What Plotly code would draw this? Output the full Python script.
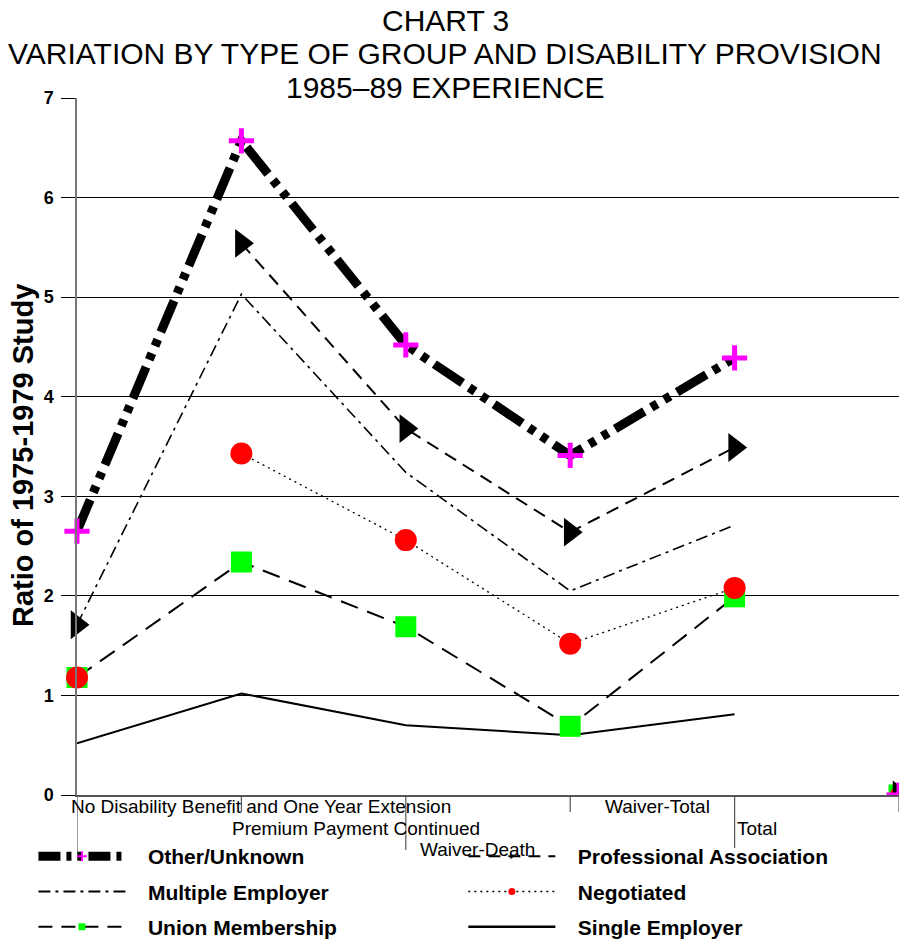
import plotly.graph_objects as go

categories = ["No Disability Benefit and One Year Extension", "Premium Payment Continued",
              "Waiver-Death", "Waiver-Total", "Total"]
other_unknown = [2.65, 6.57, 4.52, 3.41, 4.39]
professional = [1.71, 5.54, 3.68, 2.64, 3.49]
multiple_emp = [1.71, 5.03, 3.24, 2.05, 2.71]
negotiated = [1.18, 3.43, 2.56, 1.52, 2.08]
union_memb = [1.18, 2.34, 1.69, 0.69, 1.99]
single_emp = [0.52, 1.02, 0.70, 0.60, 0.81]
stray_x = 5
stray_y = 0
y_ticks = [0, 1, 2, 3, 4, 5, 6, 7]
title_lines = ["CHART 3", "VARIATION BY TYPE OF GROUP AND DISABILITY PROVISION", "1985\u201389 EXPERIENCE"]
y_title = "Ratio of 1975-1979 Study"

FONT = "Arial, Liberation Sans, sans-serif"
xs = list(range(len(categories)))

MAGENTA = "#ff00ff"
GREEN = "#00ff00"
RED = "#ff0000"
NB = "\u00a0\u00a0\u00a0"

L, R, T, B = 77, 3, 98, 146
plot_h = 941 - T - B
plot_w = 902 - L - R

def px_x(p):
    return (p - L) / plot_w

def px_y(p):
    return 1 + (T - p) / plot_h

fig = go.Figure()

def add(**kw):
    kw.setdefault("showlegend", False)
    kw.setdefault("cliponaxis", False)
    fig.add_trace(go.Scatter(**kw))

# Single Employer
add(x=xs, y=single_emp, mode="lines", line=dict(color="black", width=2))
# Union Membership
add(x=xs, y=union_memb, mode="lines+markers",
    line=dict(color="black", width=2, dash="18px,10px"),
    marker=dict(symbol="square", size=21, color=GREEN))
# Negotiated (line from 2nd point, first point marker only)
add(x=xs[1:], y=negotiated[1:], mode="lines+markers",
    line=dict(color="black", width=1.3, dash="2px,4px"),
    marker=dict(symbol="circle", size=22, color=RED))
add(x=xs[:1], y=negotiated[:1], mode="markers", marker=dict(symbol="circle", size=22, color=RED))
# Multiple Employer
add(x=xs, y=multiple_emp, mode="lines",
    line=dict(color="black", width=1.6, dash="12px,5px,3px,5px"))
# Professional Association
add(x=xs[1:], y=professional[1:], mode="lines+markers",
    line=dict(color="black", width=2, dash="13px,8px"),
    marker=dict(symbol="triangle-right", size=25, color="black"))
add(x=xs[:1], y=professional[:1], mode="markers",
    marker=dict(symbol="triangle-right", size=25, color="black"))
# Other/Unknown
add(x=xs, y=other_unknown, mode="lines",
    line=dict(color="black", width=9, dash="34px,8px,7px,8px,7px,8px"))
add(x=xs, y=other_unknown, mode="markers",
    marker=dict(symbol="cross-thin", size=18, color=MAGENTA, line=dict(color=MAGENTA, width=5)))

# stray markers at the right edge (clipped by the plot area)
for mk in [dict(symbol="square", size=21, color=GREEN),
           dict(symbol="circle", size=18, color=RED),
           dict(symbol="triangle-right", size=25, color="black"),
           dict(symbol="cross-thin", size=18, color=MAGENTA, line=dict(color=MAGENTA, width=5))]:
    add(x=[stray_x], y=[stray_y], mode="markers", marker=mk, cliponaxis=True)

# legend-only traces
leg = [
    ("Other/Unknown", "legend", dict(color="black", width=9, dash="22px,6px,5px,6px,5px,6px"),
     dict(symbol="cross-thin", size=7, color=MAGENTA, line=dict(color=MAGENTA, width=2))),
    ("Multiple Employer", "legend", dict(color="black", width=2, dash="12px,5px,3px,5px"), None),
    ("Union Membership", "legend", dict(color="black", width=2, dash="14px,9px"),
     dict(symbol="square", size=7, color=GREEN)),
    ("Professional Association", "legend2", dict(color="black", width=2, dash="12px,8px"),
     dict(symbol="triangle-right", size=5, color="black")),
    ("Negotiated", "legend2", dict(color="black", width=1.5, dash="2px,4px"),
     dict(symbol="circle", size=7, color=RED)),
    ("Single Employer", "legend2", dict(color="black", width=2.5), None),
]
for name, lg, ln, mk in leg:
    fig.add_trace(go.Scatter(x=[None], y=[None], name=NB + name, legend=lg, legendgroup=name,
                             mode="lines+markers" if mk else "lines",
                             line=ln, marker=mk if mk else dict()))

# category labels (staggered rows) and tick lines
label_px = [(69, 806), (230, 828), (418, 849), (603, 806), (735, 828)]
for cat, (lx, ly) in zip(categories, label_px):
    fig.add_annotation(x=px_x(lx), y=px_y(ly), xref="paper", yref="paper", text=cat,
                       showarrow=False, xanchor="left", yanchor="middle",
                       font=dict(family=FONT, size=19, color="black"))
tick_ext = [(0, 860), (1, 812), (2, 850), (3, 812), (4, 848), (5, 812)]
for tx, ty in tick_ext:
    fig.add_shape(type="line", x0=tx, x1=tx, y0=0, y1=px_y(ty), xref="x", yref="paper",
                  line=dict(color="#555555", width=1.2))

# title lines
for i, t in enumerate(title_lines):
    fig.add_annotation(x=px_x(445), y=px_y(20 + 34 * i), xref="paper", yref="paper", text=t,
                       showarrow=False, font=dict(family=FONT, size=30, color="black"),
                       xanchor="center", yanchor="middle")

# y-axis title
fig.add_annotation(x=px_x(23), y=px_y(456), xref="paper", yref="paper", text=y_title,
                   textangle=-90, showarrow=False, xanchor="center", yanchor="middle",
                   font=dict(family=FONT, size=29, color="black", weight="bold"))

fig.update_layout(
    width=902, height=941,
    margin=dict(l=L, r=R, t=T, b=B, autoexpand=False),
    paper_bgcolor="white", plot_bgcolor="white",
    xaxis=dict(range=[0, 5], showticklabels=False, showgrid=False, zeroline=False,
               showline=True, linecolor="#555555", linewidth=1.5, ticks=""),
    yaxis=dict(range=[0, 7], tickvals=y_ticks, showgrid=True, gridcolor="black", gridwidth=1,
               zeroline=False, showline=True, linecolor="#777777", linewidth=1.5,
               ticks="outside", ticklen=14, tickcolor="black", ticklabelstandoff=4,
               tickfont=dict(family=FONT, size=18, color="black", weight="bold")),
    legend=dict(x=-0.053, y=-0.059, xanchor="left", yanchor="top", orientation="v",
                itemwidth=87, tracegroupgap=5, bgcolor="rgba(0,0,0,0)",
                font=dict(family=FONT, size=21, color="black", weight="bold")),
    legend2=dict(x=0.47, y=-0.059, xanchor="left", yanchor="top", orientation="v",
                 itemwidth=87, tracegroupgap=5, bgcolor="rgba(0,0,0,0)",
                 font=dict(family=FONT, size=21, color="black", weight="bold")),
)

fig.write_html("out.html")
